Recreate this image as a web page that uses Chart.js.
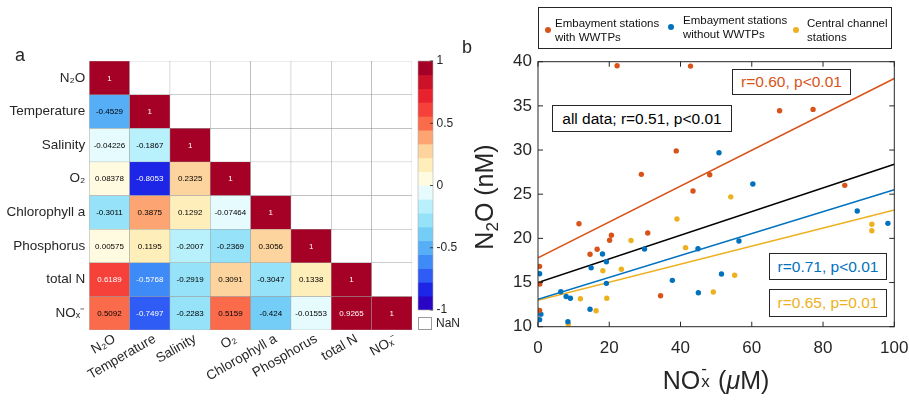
<!DOCTYPE html>
<html>
<head>
<meta charset="utf-8">
<script src="https://cdn.jsdelivr.net/npm/chart.js@4.4.1/dist/chart.umd.min.js"></script>
<style>
  body { margin: 0; background: #fff; }
  #fig { position: relative; width: 909px; height: 402px; overflow: hidden;
         font-family: "Liberation Sans", Arial, sans-serif; color: #262626; }
  canvas { position: absolute; top: 0; }
  .panel { position: absolute; font-size: 18px; line-height: 20px; }
  .nanbox { position: absolute; left: 418px; top: 317px; width: 14px; height: 13px;
            border: 1px solid #9a9a9a; box-sizing: border-box; }
  .nantxt { position: absolute; left: 436px; top: 317px; font-size: 12px; line-height: 13px; }
  #legend { position: absolute; left: 538px; top: 7px; width: 354px; height: 42px;
            border: 1px solid #262626; box-sizing: border-box; background: #fff; }
  #legend .dot { position: absolute; width: 6px; height: 6px; border-radius: 50%; }
  #legend .txt { position: absolute; font-size: 11.5px; line-height: 14px; color: #111; white-space: nowrap; }
  .ann { position: absolute; border: 1px solid #262626; background: #fff; box-sizing: border-box;
         font-size: 15.5px; text-align: center; white-space: nowrap; }
  .title { position: absolute; width: 220px; height: 30px; line-height: 30px; font-size: 25px;
           text-align: center; white-space: nowrap; color: #262626; }
  .title sub { font-size: 17px; vertical-align: -5px; line-height: 0; }
  .ss { display: inline-block; position: relative; width: 11px; height: 25px; vertical-align: baseline; }
  .ss .sp { position: absolute; left: 1px; top: -10px; font-size: 17px; }
  .ss .sb { position: absolute; left: 1px; top: 3px; font-size: 17px; }
</style>
</head>
<body>
<div id="fig">
  <canvas id="heat" width="420" height="402" style="left:0"></canvas>
  <canvas id="cbar" width="58" height="402" style="left:412px"></canvas>
  <canvas id="scatter" width="460" height="402" style="left:470px"></canvas>

  <div class="panel" style="left:15px; top:45px">a</div>
  <div class="panel" style="left:462px; top:37px">b</div>

  <div class="nanbox"></div>
  <div class="nantxt">NaN</div>

  <div id="legend">
    <div class="dot" style="left:6px; top:19px; background:#D95319"></div>
    <div class="txt" style="left:16px; top:8px">Embayment stations<br>with WWTPs</div>
    <div class="dot" style="left:129px; top:16px; background:#0072BD"></div>
    <div class="txt" style="left:144px; top:5px">Embayment stations<br>without WWTPs</div>
    <div class="dot" style="left:254px; top:19px; background:#EDB120"></div>
    <div class="txt" style="left:268px; top:8px">Central channel<br>stations</div>
  </div>

  <div class="ann" style="left:732px; top:69px; width:119px; height:26px; line-height:24px; color:#D95319">r=0.60, p&lt;0.01</div>
  <div class="ann" style="left:552px; top:105px; width:180px; height:27px; line-height:25px; color:#000">all data; r=0.51, p&lt;0.01</div>
  <div class="ann" style="left:769px; top:253px; width:118px; height:27px; line-height:25px; color:#0072BD">r=0.71, p&lt;0.01</div>
  <div class="ann" style="left:769px; top:289px; width:118px; height:28px; line-height:26px; color:#EDB120">r=0.65, p=0.01</div>

  <div class="title" style="left:606px; top:364px">NO<span class="ss"><span class="sp">-</span><span class="sb">x</span></span> (<i>μ</i>M)</div>
  <div class="title" style="left:373.5px; top:182px; transform: rotate(-90deg)">N<sub>2</sub>O (nM)</div>
</div>

<script>
// correlation matrix, lower triangle (row by row)
const varNames = ['N₂O', 'Temperature', 'Salinity', 'O₂', 'Chlorophyll a', 'Phosphorus', 'total N', 'NOₓ⁻']
const corrRows = [
  [1],
  [-0.4529, 1],
  [-0.04226, -0.1867, 1],
  [0.08378, -0.8053, 0.2325, 1],
  [-0.3011, 0.3875, 0.1292, -0.07464, 1],
  [0.00575, 0.1195, -0.2007, -0.2369, 0.3056, 1],
  [0.6189, -0.5768, -0.2919, 0.3091, -0.3047, 0.1338, 1],
  [0.5092, -0.7497, -0.2283, 0.5159, -0.424, -0.01553, 0.9265, 1]
]
// colormap, from +1 (top) down to -1
const heatColors = ['#a50026', '#cc1229', '#e8222c', '#f6403a', '#fa6b4c', '#fca472', '#fdd49d', '#feeeba', '#fffbe1',
                    '#e6fbfe', '#b8f1fc', '#96e2f8', '#73cdf6', '#55aef6', '#3e8af7', '#2f5cf4', '#1d26e6', '#2a05c4']
const cbarTicks = [1, 0.5, 0, -0.5, -1]

// scatter: NOx (uM) vs N2O (nM)
const wwtpX = [22.2, 42.8, 67.8, 77.2, 38.8, 29.0, 48.2, 43.5, 86.1, 11.5, 20.6, 20.1, 30.8, 16.6, 14.6, 0.45, 0.5, 0.45, 34.4]
const wwtpY = [39.55, 39.5, 34.45, 34.6, 29.9, 27.25, 27.2, 25.36, 26.0, 21.66, 20.35, 19.78, 20.6, 18.76, 18.2, 16.83, 14.83, 11.85, 13.5]
const noWwtpX = [50.8, 60.3, 89.6, 0.45, 0.8, 0.45, 6.4, 7.9, 9.1, 8.4, 14.6, 14.9, 18.1, 19.2, 19.2, 29.9, 37.7, 44.9, 45.0, 51.5, 56.4, 98.2]
const noWwtpY = [29.7, 26.15, 23.1, 16.0, 11.42, 10.8, 13.95, 13.42, 13.22, 10.57, 11.97, 16.68, 18.23, 17.35, 14.91, 18.8, 15.25, 18.83, 13.85, 15.97, 19.7, 21.7]
const channelX = [54.1, 39.0, 26.1, 41.4, 23.4, 18.2, 11.9, 19.3, 16.3, 8.5, 49.2, 55.2, 93.7, 93.7]
const channelY = [24.7, 22.2, 19.76, 18.95, 16.5, 16.33, 13.17, 13.22, 11.81, 10.28, 13.93, 15.82, 21.6, 20.87]

// regression lines, evaluated at the ends of the x range
const fitX = [0, 100]
const fitAll = [15.0, 28.4]
const fitWwtp = [17.8, 38.1]
const fitNoWwtp = [13.1, 25.5]
const fitChannel = [13.0, 23.2]

const ORANGE = '#D95319'
const BLUE = '#0072BD'
const YELLOW = '#EDB120'
const AXIS = '#262626'
const FONT = '"Liberation Sans", Arial, sans-serif'

function colorFor(v) {
  if (v === undefined || v === null) return '#ffffff'
  const step = 2 / heatColors.length
  let k = Math.floor((1 - v) / step)
  k = Math.min(Math.max(k, 0), heatColors.length - 1)
  return heatColors[k]
}

function pts(xs, ys) {
  return xs.map((x, i) => ({ x: x, y: ys[i] }))
}

// ---------- panel a: heatmap ----------
const cellText = {
  id: 'cellText',
  afterDatasetsDraw(chart) {
    const ctx = chart.ctx
    ctx.save()
    ctx.font = '8px ' + FONT
    ctx.textAlign = 'center'
    ctx.textBaseline = 'middle'
    corrRows.forEach((row, r) => {
      const meta = chart.getDatasetMeta(r)
      row.forEach((v, c) => {
        const bar = meta.data[c]
        ctx.fillStyle = Math.abs(v) > 0.55 ? '#ffffff' : '#000000'
        ctx.fillText(String(v), bar.x, (bar.y + bar.base) / 2 + 0.5)
      })
    })
    ctx.restore()
  }
}

new Chart(document.getElementById('heat'), {
  type: 'bar',
  data: {
    labels: varNames,
    datasets: corrRows.map((row, r) => ({
      data: varNames.map(() => [r, r + 1]),
      backgroundColor: varNames.map((_, c) => colorFor(row[c])),
      borderColor: '#9d9d9d',
      borderWidth: 0.5,
      borderSkipped: false,
      grouped: false,
      barPercentage: 1,
      categoryPercentage: 1
    }))
  },
  options: {
    responsive: false,
    animation: false,
    layout: { padding: { left: 0, right: 8, top: 61, bottom: 0 } },
    plugins: { legend: { display: false }, tooltip: { enabled: false } },
    scales: {
      x: {
        grid: { display: false, drawTicks: false },
        border: { display: false },
        ticks: { autoSkip: false, minRotation: 30, maxRotation: 30, padding: 1, labelOffset: 5,
                 color: AXIS, font: { family: FONT, size: 13.5 } },
        afterFit: (s) => { s.height = 72 }
      },
      y: {
        min: 0,
        max: 8,
        reverse: true,
        grid: { display: false, drawTicks: false },
        border: { display: false },
        afterBuildTicks: (axis) => { axis.ticks = varNames.map((_, i) => ({ value: i + 0.5 })) },
        ticks: { padding: 4, color: AXIS, font: { family: FONT, size: 13.5 }, callback: (v, i) => varNames[i] },
        afterFit: (s) => { s.width = 89.3 }
      }
    }
  },
  plugins: [cellText]
})

// ---------- colorbar ----------
const cbarFrame = {
  id: 'cbarFrame',
  afterDatasetsDraw(chart) {
    const { ctx, chartArea: a } = chart
    const y = chart.scales.y
    ctx.save()
    ctx.strokeStyle = '#b0b0b0'
    ctx.lineWidth = 0.6
    ctx.strokeRect(a.left, a.top, a.right - a.left, a.bottom - a.top)
    ctx.strokeStyle = AXIS
    ctx.lineWidth = 0.8
    cbarTicks.forEach(t => {
      const py = y.getPixelForValue(t)
      ctx.beginPath()
      ctx.moveTo(a.right - 3, py)
      ctx.lineTo(a.right, py)
      ctx.stroke()
    })
    ctx.restore()
  }
}

const cbarStep = 2 / heatColors.length
new Chart(document.getElementById('cbar'), {
  type: 'bar',
  data: {
    labels: [''],
    datasets: heatColors.map((c, k) => ({
      data: [[1 - (k + 1) * cbarStep, 1 - k * cbarStep]],
      backgroundColor: c,
      borderWidth: 0,
      grouped: false,
      barPercentage: 1,
      categoryPercentage: 1
    }))
  },
  options: {
    responsive: false,
    animation: false,
    layout: { padding: { left: 6, right: 0, top: 61, bottom: 92 } },
    plugins: { legend: { display: false }, tooltip: { enabled: false } },
    scales: {
      x: { display: false },
      y: {
        position: 'right',
        min: -1,
        max: 1,
        grid: { display: false, drawTicks: false },
        border: { display: false },
        afterBuildTicks: (axis) => { axis.ticks = cbarTicks.map(v => ({ value: v })) },
        ticks: { padding: 3.5, color: AXIS, font: { family: FONT, size: 12 }, callback: (v) => String(v) },
        afterFit: (s) => { s.width = 37 }
      }
    }
  },
  plugins: [cbarFrame]
})

// ---------- panel b: scatter ----------
const boxTicks = {
  id: 'boxTicks',
  afterDraw(chart) {
    const { ctx, chartArea: a, scales } = chart
    const len = 5
    ctx.save()
    ctx.strokeStyle = AXIS
    ctx.lineWidth = 1
    ctx.strokeRect(a.left, a.top, a.right - a.left, a.bottom - a.top)
    ctx.beginPath()
    scales.x.ticks.forEach(t => {
      const px = scales.x.getPixelForValue(t.value)
      ctx.moveTo(px, a.bottom); ctx.lineTo(px, a.bottom - len)
      ctx.moveTo(px, a.top); ctx.lineTo(px, a.top + len)
    })
    scales.y.ticks.forEach(t => {
      const py = scales.y.getPixelForValue(t.value)
      ctx.moveTo(a.left, py); ctx.lineTo(a.left + len, py)
      ctx.moveTo(a.right, py); ctx.lineTo(a.right - len, py)
    })
    ctx.stroke()
    ctx.restore()
  }
}

function fitLine(label, ys, color) {
  return {
    type: 'line',
    label: label,
    data: pts(fitX, ys),
    borderColor: color,
    borderWidth: 1.5,
    pointRadius: 0,
    fill: false,
    order: 2
  }
}

function group(label, xs, ys, color) {
  return {
    label: label,
    data: pts(xs, ys),
    backgroundColor: color,
    borderColor: color,
    borderWidth: 0,
    pointRadius: 2.7,
    order: 1
  }
}

new Chart(document.getElementById('scatter'), {
  type: 'scatter',
  data: {
    datasets: [
      group('Embayment stations with WWTPs', wwtpX, wwtpY, ORANGE),
      group('Embayment stations without WWTPs', noWwtpX, noWwtpY, BLUE),
      group('Central channel stations', channelX, channelY, YELLOW),
      fitLine('all data', fitAll, '#000000'),
      fitLine('with WWTPs fit', fitWwtp, ORANGE),
      fitLine('without WWTPs fit', fitNoWwtp, BLUE),
      fitLine('central channel fit', fitChannel, YELLOW)
    ]
  },
  options: {
    responsive: false,
    animation: false,
    layout: { padding: { left: 0, right: 35.7, top: 61.7, bottom: 0 } },
    plugins: { legend: { display: false }, tooltip: { enabled: false } },
    scales: {
      x: {
        type: 'linear',
        min: 0,
        max: 100,
        grid: { display: false, drawTicks: false },
        border: { display: false },
        ticks: { stepSize: 20, padding: 11, color: AXIS, font: { family: FONT, size: 17 } },
        afterFit: (s) => { s.height = 75.3 }
      },
      y: {
        min: 10,
        max: 40,
        grid: { display: false, drawTicks: false },
        border: { display: false },
        ticks: { stepSize: 5, padding: 6, color: AXIS, font: { family: FONT, size: 17 } },
        afterFit: (s) => { s.width = 68 }
      }
    }
  },
  plugins: [boxTicks]
})
</script>
</body>
</html>
